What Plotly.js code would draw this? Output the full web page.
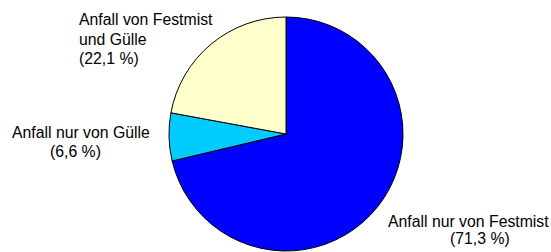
<!DOCTYPE html>
<html>
<head>
<meta charset="utf-8">
<script src="https://cdn.plot.ly/plotly-3.0.1.min.js"></script>
<style>html,body{margin:0;padding:0;background:#fff;}#chart{width:551px;height:252px;}</style>
</head>
<body>
<div id="chart"></div>
<script>
// Data
const categories = ['Anfall nur von Festmist', 'Anfall nur von Gülle', 'Anfall von Festmist und Gülle'];
const values = [71.3, 6.6, 22.1];
const colors = ['#0000FF', '#00CCFF', '#FFFFCC'];
// Label lines as shown in the chart (text lines per category)
const labelLines = [
  ['Anfall nur von Festmist'],
  ['Anfall nur von Gülle'],
  ['Anfall von Festmist', 'und Gülle']
];

// Label placement (pixels in the 551x252 canvas): per line [x, yCenter, anchor]
const W = 551, H = 252;
const placement = [
  [[468, 221.5, 'center'], [480, 238.5, 'center']],
  [[81, 132.5, 'center'], [75, 151.5, 'center']],
  [[77, 19.5, 'left'], [77, 39.5, 'left'], [77, 58.5, 'left']]
];

function fmtPct(v) { return '(' + v.toFixed(1).replace('.', ',') + ' %)'; }

const annotations = [];
categories.forEach((c, i) => {
  const lines = labelLines[i].concat([fmtPct(values[i])]);
  lines.forEach((t, j) => {
    const p = placement[i][j];
    annotations.push({
      text: t, xref: 'paper', yref: 'paper',
      x: p[0] / W, y: 1 - p[1] / H,
      xanchor: p[2], yanchor: 'middle', showarrow: false,
      font: {family: '"Liberation Sans", Arial, sans-serif', size: 15.8, color: '#000'}
    });
  });
});

const trace = {
  type: 'pie',
  labels: categories,
  values: values,
  sort: false,
  direction: 'clockwise',
  rotation: 0,
  textinfo: 'none',
  hoverinfo: 'label+percent',
  marker: {colors: colors, line: {color: '#000', width: 1}},
  domain: {x: [169 / W, 403 / W], y: [1 - 251 / H, 1 - 17 / H]}
};

Plotly.newPlot('chart', [trace], {
  width: W, height: H,
  margin: {l: 0, r: 0, t: 0, b: 0},
  showlegend: false,
  paper_bgcolor: '#fff',
  annotations: annotations
}, {staticPlot: true});
</script>
</body>
</html>
